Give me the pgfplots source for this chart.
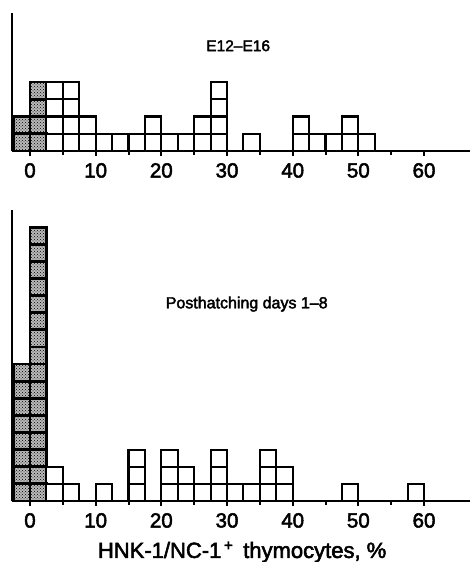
\documentclass[border=0pt]{standalone}
\usepackage{pgfplots}
\pgfplotsset{compat=1.18}
\usepackage{pgfplotstable}
\usepackage{fontspec}
\setmainfont{Liberation Sans}
\newfontfamily\hv{Liberation Sans}[FakeBold=2.5]
\usetikzlibrary{patterns}

% top panel (E12-E16): bin centre, number of embryos
\pgfplotstableread{
x n
-1.25 2
1.25 4
}\topH
\pgfplotstableread{
x n
3.75 4
6.25 4
8.75 2
11.25 1
13.75 1
16.25 1
18.75 2
21.25 1
23.75 1
26.25 2
28.75 4
33.75 1
41.25 2
43.75 1
46.25 1
48.75 2
51.25 1
}\topW
% bottom panel (posthatching days 1-8)
\pgfplotstableread{
x n
-1.25 8
1.25 16
}\botH
\pgfplotstableread{
x n
3.75 2
6.25 1
11.25 1
16.25 3
21.25 3
23.75 2
26.25 1
28.75 3
31.25 1
33.75 1
36.25 3
38.75 2
48.75 1
58.75 1
}\botW

\pgfplotsset{
  panel/.style={
    scale only axis, width=458pt, clip=false,
    xmin=-2.74, xmax=67.0, ymin=0,
    axis x line=bottom, axis y line=left,
    axis line style={-, line width=2.2pt},
    ytick=\empty,
    xtick={0,10,...,60}, minor xtick={5,15,...,55},
    tick align=outside,
    major tick length=5pt, minor tick length=3.5pt,
    every tick/.style={line width=2pt, black},
    /pgf/number format/assume math mode=true,
    xticklabel style={font=\hv\fontsize{20.5}{20.5}\selectfont, inner sep=2pt, yshift=-5pt},
  },
  wbox/.style={ybar, bar width=2.5, bar shift=0pt, fill=white, draw=black, line width=2.1pt},
  hbox/.style={ybar, bar width=2.5, bar shift=0pt, draw=black, line width=2.8pt,
    fill=gray!55, postaction={pattern=crosshatch dots, pattern color=black}},
}

\begin{document}
\begin{tikzpicture}
\path[use as bounding box] (0,0) rectangle (470pt,-562pt);

\begin{axis}[panel, height=138pt, ymax=8.0, at={(12pt,-151pt)}, anchor=south west]
\pgfplotsinvokeforeach{4,3,2,1}{
  \addplot[hbox] table[x=x, y expr={\thisrow{n}>=#1 ? #1 : nan}] {\topH};
  \addplot[wbox] table[x=x, y expr={\thisrow{n}>=#1 ? #1 : nan}] {\topW};
}
\node[font=\hv\fontsize{15.5}{15.5}\selectfont] at (axis cs:31.7,6.1) {E12–E16};
\end{axis}

\begin{axis}[panel, height=291pt, ymax=17.0, at={(12pt,-501pt)}, anchor=south west]
\pgfplotsinvokeforeach{16,15,...,1}{
  \addplot[hbox] table[x=x, y expr={\thisrow{n}>=#1 ? #1 : nan}] {\botH};
  \addplot[wbox] table[x=x, y expr={\thisrow{n}>=#1 ? #1 : nan}] {\botW};
}
\node[font=\hv\fontsize{16}{16}\selectfont] at (axis cs:33,11.5) {Posthatching days 1–8};
\node[font=\hv\fontsize{22}{22}\selectfont] at (axis cs:32.3,0) [yshift=-51pt] {HNK-1/NC-1\textsuperscript{\,+}\, thymocytes, \%};
\end{axis}
\end{tikzpicture}
\end{document}
